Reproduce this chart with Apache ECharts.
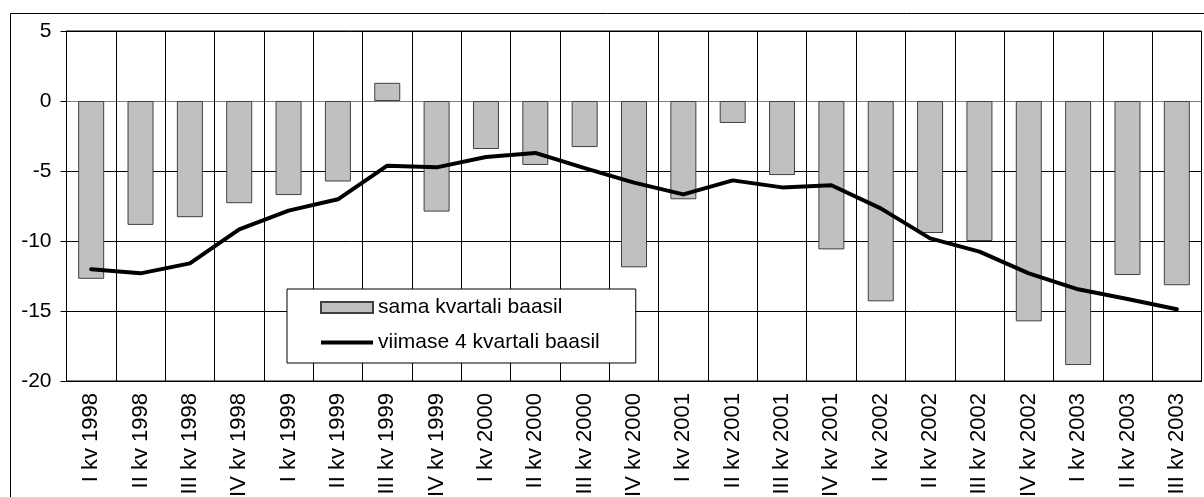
<!DOCTYPE html>
<html>
<head>
<meta charset="utf-8">
<script src="https://cdn.jsdelivr.net/npm/echarts@6/dist/echarts.min.js"></script>
<style>
html,body{margin:0;padding:0;background:#fff;}
#chart{width:1204px;height:497px;}
</style>
</head>
<body>
<div id="chart"></div>
<script>
const categories = [
  'I kv 1998','II kv 1998','III kv 1998','IV kv 1998',
  'I kv 1999','II kv 1999','III kv 1999','IV kv 1999',
  'I kv 2000','II kv 2000','III kv 2000','IV kv 2000',
  'I kv 2001','II kv 2001','III kv 2001','IV kv 2001',
  'I kv 2002','II kv 2002','III kv 2002','IV kv 2002',
  'I kv 2003','II kv 2003','III kv 2003'
];
const samaKvartaliBaasil = [
  -12.7, -8.85, -8.3, -7.3,
  -6.72, -5.75, 1.3, -7.9,
  -3.43, -4.57, -3.29, -11.88,
  -7.02, -1.57, -5.29, -10.6,
  -14.31, -9.43, -10.0, -15.74,
  -18.86, -12.43, -13.16
];
const viimase4KvartaliBaasil = [
  -12.02, -12.31, -11.6, -9.17,
  -7.83, -7.02, -4.62, -4.74,
  -4.0, -3.71, -4.8, -5.83,
  -6.67, -5.67, -6.17, -6.02,
  -7.67, -9.81, -10.76, -12.31,
  -13.45, -14.14, -14.88
];
const seriesNames = ['sama kvartali baasil', 'viimase 4 kvartali baasil'];
const yMin = -20, yMax = 5, yStep = 5;

const FONT = "'Liberation Sans', Arial, sans-serif";
const chart = echarts.init(document.getElementById('chart'), null, {renderer: 'canvas'});
chart.setOption({
  animation: false,
  backgroundColor: '#fff',
  textStyle: {fontFamily: FONT, color: '#000'},
  graphic: [{
    type: 'rect', left: 8, top: 11, z: -10,
    shape: {x: 0, y: 0, width: 1400, height: 700},
    style: {fill: null, stroke: '#000', lineWidth: 1}
  }],
  grid: {
    left: 66.5, top: 31, right: 2.5, bottom: 116,
    containLabel: false, outerBoundsMode: 'none',
    show: true, borderColor: '#000', borderWidth: 1, backgroundColor: 'transparent'
  },
  legend: {
    orient: 'vertical', left: 287, top: 289,
    padding: [8, 36, 10, 33], itemGap: 14,
    itemWidth: 52, itemHeight: 11,
    symbolKeepAspect: true,
    backgroundColor: '#fff', borderColor: '#000', borderWidth: 1, borderRadius: 0,
    textStyle: {fontFamily: FONT, fontSize: 21, color: '#000'},
    data: [
      {name: seriesNames[0], icon: 'rect'},
      {name: seriesNames[1], icon: 'path://M0,0 H52 V4 H0 Z',
       itemStyle: {color: '#000', borderWidth: 0}}
    ]
  },
  xAxis: [{
    type: 'category', data: categories, position: 'bottom',
    boundaryGap: true,
    axisLine: {onZero: false, lineStyle: {color: '#000', width: 1}},
    axisTick: {show: false},
    splitLine: {show: true, interval: 0, lineStyle: {color: '#000', width: 1}},
    axisLabel: {interval: 0, rotate: 90, fontSize: 22, fontFamily: FONT, color: '#000', margin: 12}
  }, {
    type: 'category', data: categories, position: 'bottom',
    boundaryGap: true,
    axisLine: {onZero: true, lineStyle: {color: '#808080', width: 1}},
    axisTick: {show: true, interval: 0, length: 5, lineStyle: {color: '#000'}},
    axisLabel: {show: false},
    splitLine: {show: false}
  }],
  yAxis: {
    type: 'value', min: yMin, max: yMax, interval: yStep,
    axisLine: {show: true, lineStyle: {color: '#000', width: 1}},
    axisTick: {show: true, length: 6, lineStyle: {color: '#000'}},
    axisLabel: {fontSize: 21, fontFamily: FONT, color: '#000', margin: 15},
    splitLine: {show: true, lineStyle: {color: ['#000', '#000', '#000', '#000', '#808080', '#000'], width: 1}}
  },
  series: [{
    name: seriesNames[0], type: 'bar', xAxisIndex: 0,
    data: samaKvartaliBaasil, barWidth: 26,
    itemStyle: {color: '#c0c0c0', borderColor: '#404040', borderWidth: 1},
    z: 2
  }, {
    name: seriesNames[1], type: 'line', xAxisIndex: 0,
    data: viimase4KvartaliBaasil,
    symbol: 'none', showSymbol: false,
    lineStyle: {color: '#000', width: 4, join: 'round', cap: 'round'},
    itemStyle: {color: '#000'},
    z: 3
  }]
});
</script>
</body>
</html>
